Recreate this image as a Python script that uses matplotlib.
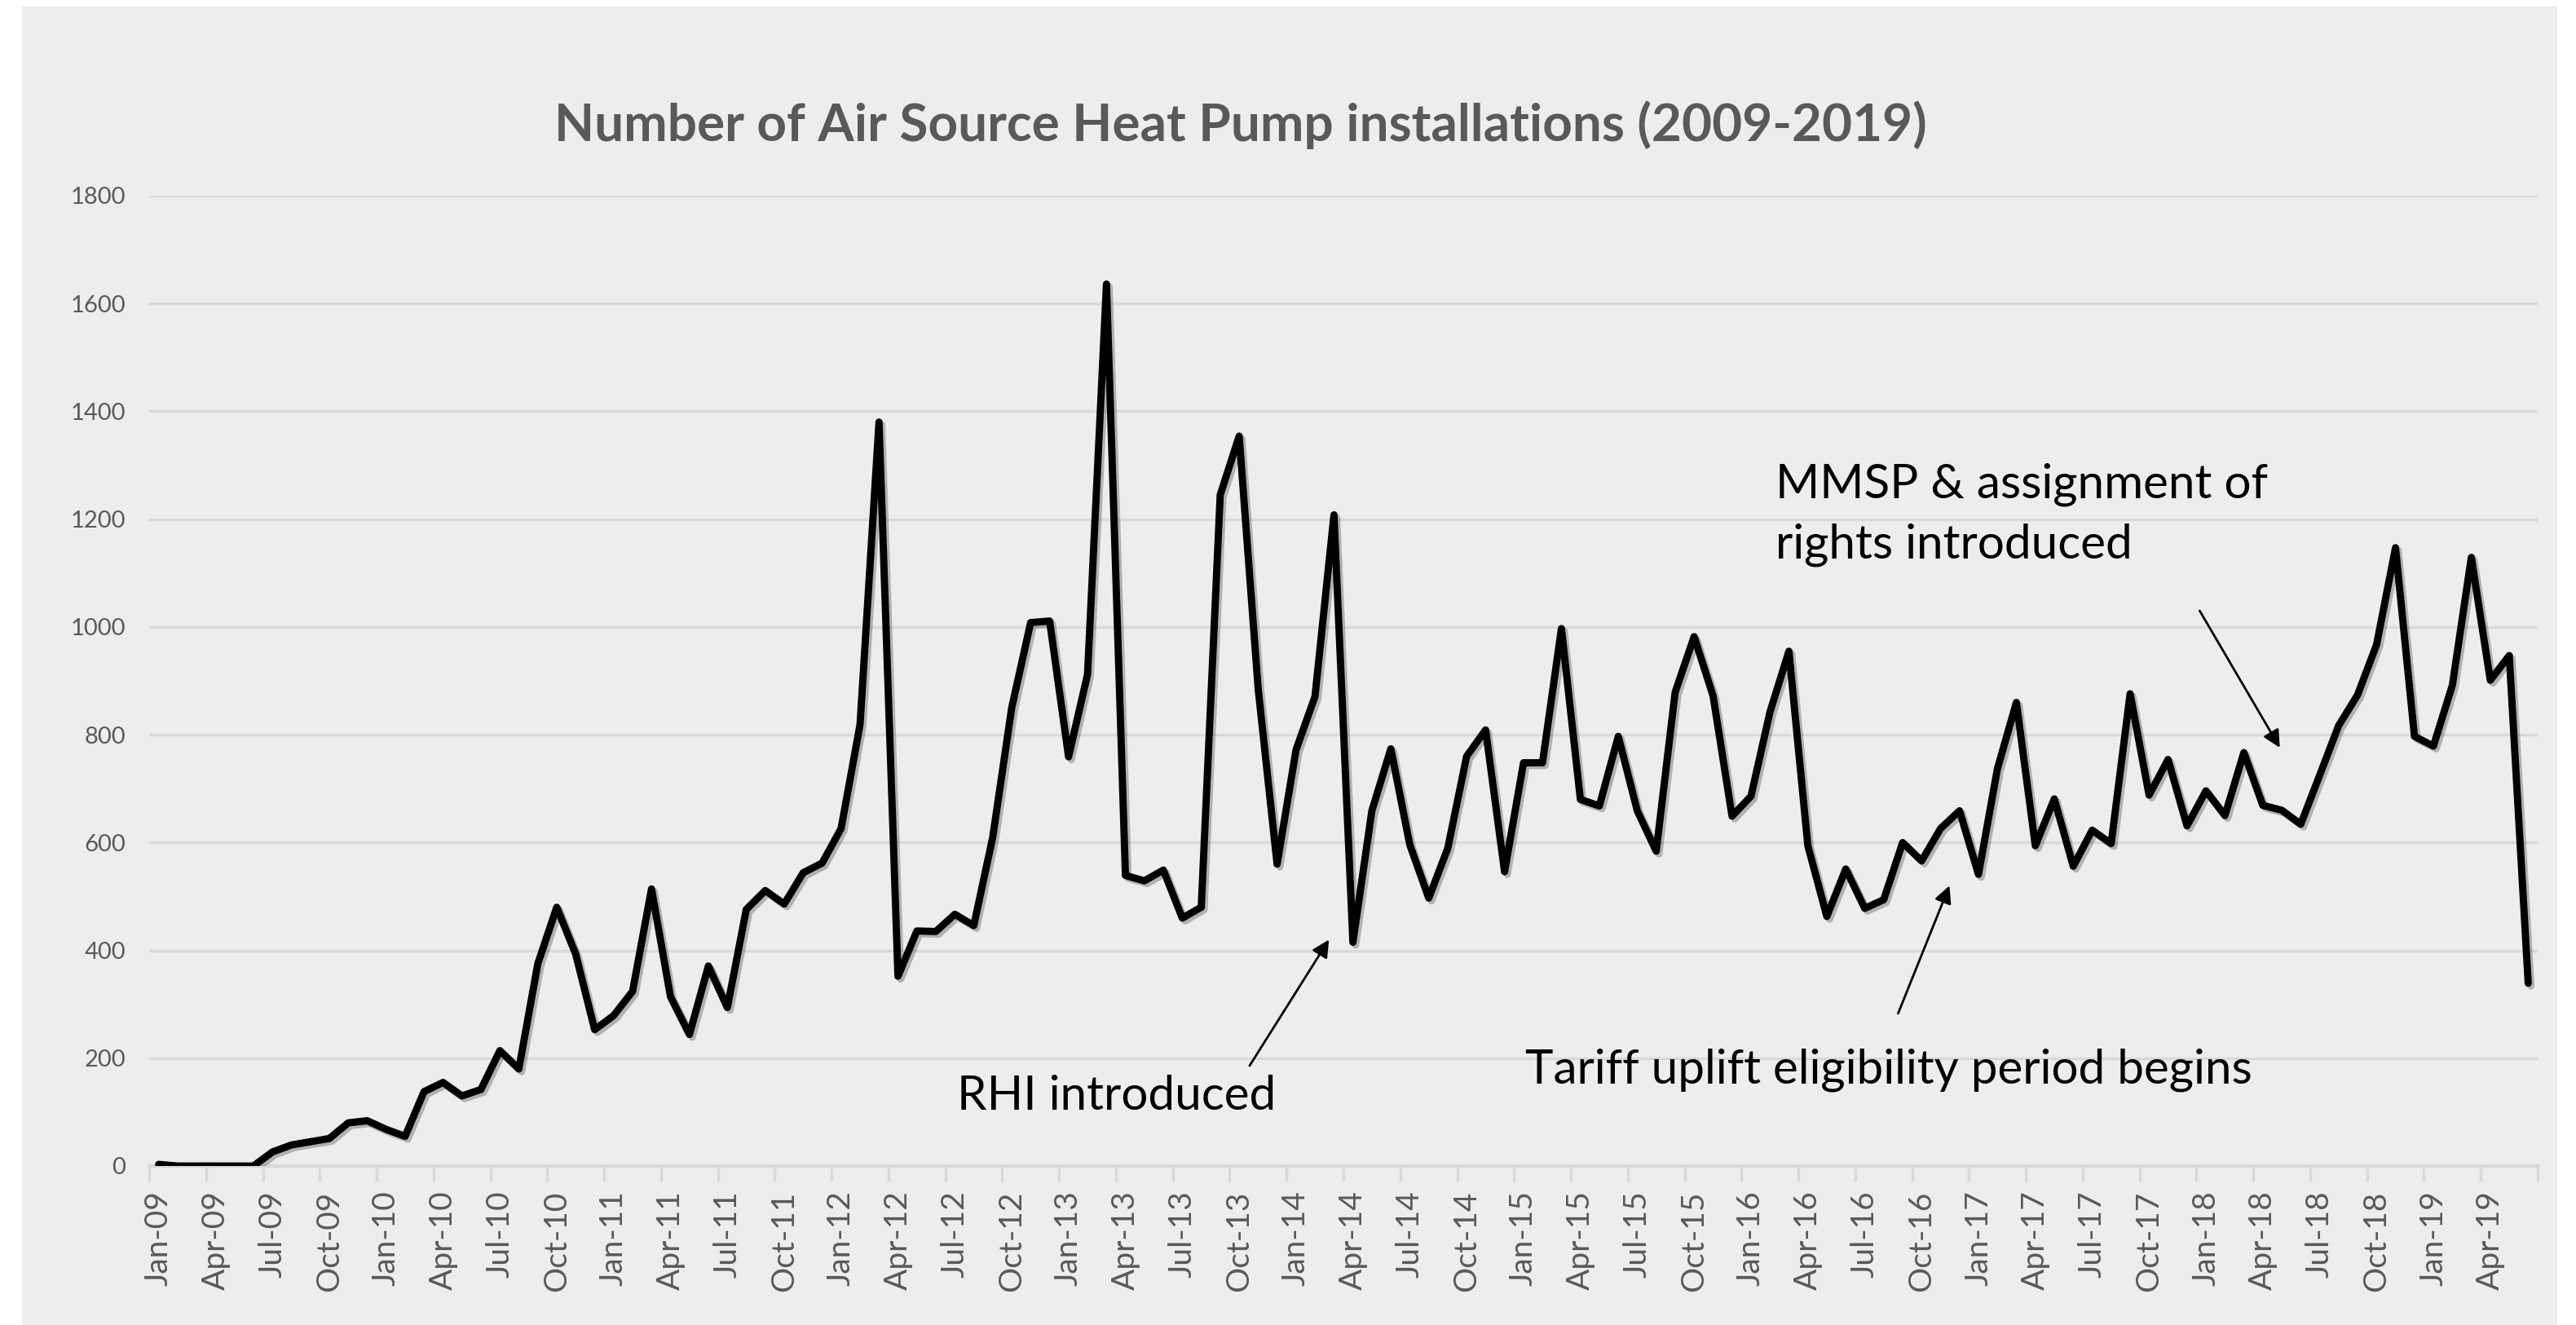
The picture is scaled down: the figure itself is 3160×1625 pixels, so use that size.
import numpy as np
import pandas as pd
import matplotlib
matplotlib.use('Agg')
import matplotlib.pyplot as plt
import matplotlib.patheffects as pe
from matplotlib.patches import Rectangle

# monthly ASHP installations
inst_2009 = [3, 0, 0, 0, 0, 0, 26, 39, 45, 51, 80, 84]
inst_2010 = [68, 55, 138, 155, 130, 142, 214, 180, 375, 480, 393, 253]
inst_2011 = [279, 324, 514, 314, 244, 371, 294, 476, 511, 486, 544, 562]
inst_2012 = [626, 819, 1380, 352, 436, 435, 467, 446, 610, 850, 1008, 1011]
inst_2013 = [759, 912, 1636, 539, 529, 549, 460, 480, 1245, 1354, 886, 560]
inst_2014 = [772, 871, 1208, 415, 659, 774, 596, 497, 589, 760, 809, 546]
inst_2015 = [748, 748, 997, 680, 668, 797, 659, 584, 879, 982, 872, 649]
inst_2016 = [686, 842, 955, 594, 463, 551, 478, 494, 600, 566, 626, 659]
inst_2017 = [541, 737, 860, 594, 681, 556, 623, 598, 876, 688, 754, 631]
inst_2018 = [696, 650, 767, 669, 660, 634, 725, 817, 874, 967, 1147, 797]
inst_2019 = [779, 892, 1129, 901, 947, 339]

installs = (inst_2009 + inst_2010 + inst_2011 + inst_2012 + inst_2013 + inst_2014
            + inst_2015 + inst_2016 + inst_2017 + inst_2018 + inst_2019)
months = pd.date_range('2009-01-01', periods=len(installs), freq='MS')
month_labels = [m.strftime('%b-%y') for m in months]
y_ticks = [0, 200, 400, 600, 800, 1000, 1200, 1400, 1600, 1800]

# annotations: text, text position, arrow tail, arrow head (data coords)
notes = [
    (['RHI introduced'], (42.1, 104), (57.55, 186), (61.74, 420)),
    (['Tariff uplift eligibility period begins'], (72.1, 154), (91.76, 283), (94.47, 520)),
    (['MMSP & assignment of', 'rights introduced'], (85.3, 1240), (107.67, 1030), (111.9, 776)),
]

plt.rcParams['font.family'] = ['Lato', 'DejaVu Sans']
grey_txt = '#595959'

fig = plt.figure(figsize=(15.8, 8.125), dpi=200)
fig.patch.set_facecolor('white')
# grey chart area with a thin white border
fig.patches.append(Rectangle((27 / 3160, 0), 3110 / 3160, 1 - 8 / 1625,
                             transform=fig.transFigure, facecolor='#ededed',
                             edgecolor='none', zorder=-10))

ax = fig.add_axes([183 / 3160, 1 - 1430 / 1625, 2930 / 3160, 1190 / 1625])
ax.set_facecolor('none')
ax.set_zorder(5)

x = np.arange(len(installs))
ax.plot(x, installs, color='black', lw=3.2, solid_joinstyle='round',
        solid_capstyle='round', zorder=3,
        path_effects=[pe.SimpleLineShadow(offset=(1.2, -1.2), alpha=0.25), pe.Normal()])

ax.set_xlim(-0.5, len(installs) - 0.5)
ax.set_ylim(0, 1800)
ax.set_yticks(y_ticks)
ax.set_yticklabels([str(v) for v in y_ticks], fontsize=10.5, color=grey_txt)
ax.yaxis.grid(True, color='#d9d9d9', lw=1.2)
ax.set_axisbelow(True)

ax.set_xticks(x[::3])
ax.set_xticklabels(month_labels[::3], rotation=90, fontsize=14, color=grey_txt)
ax.set_xticks(np.arange(-0.5, len(installs), 3), minor=True)
ax.tick_params(axis='x', which='major', length=0, pad=11)
ax.tick_params(axis='x', which='minor', length=7, width=1.2, color='#d9d9d9')
ax.tick_params(axis='y', length=0, pad=10.5)

for s in ['top', 'right', 'left']:
    ax.spines[s].set_visible(False)
ax.spines['bottom'].set_color('#d9d9d9')
ax.spines['bottom'].set_linewidth(1.5)

for lines, (tx, ty), tail, head in notes:
    for k, line in enumerate(lines):
        ax.text(tx, ty - k * 113, line, fontsize=21, color='black',
                ha='left', va='baseline')
    ax.annotate('', xy=head, xytext=tail,
                arrowprops=dict(arrowstyle='-|>', color='black', lw=1.0,
                                mutation_scale=16, shrinkA=0, shrinkB=0))

fig.text(1522 / 3160, 1 - 173 / 1625, 'Number of Air Source Heat Pump installations (2009-2019)',
         ha='center', va='baseline', fontsize=23, fontweight='bold', color=grey_txt)

fig.savefig('out.png', dpi=200)
